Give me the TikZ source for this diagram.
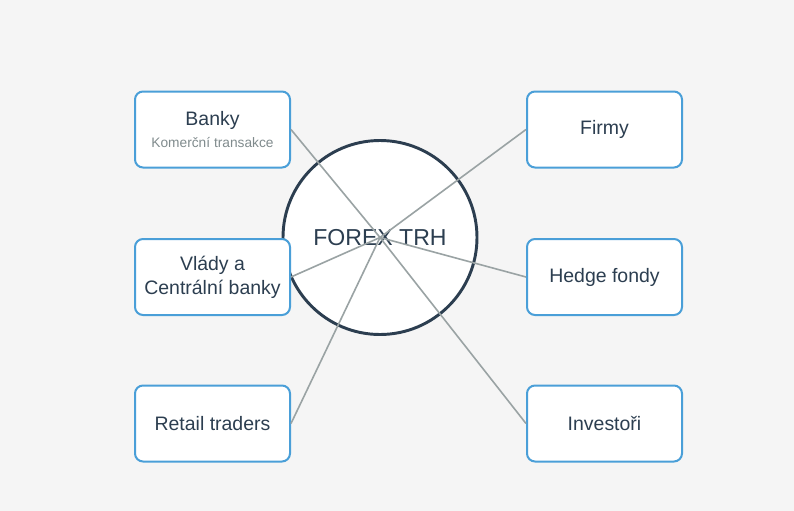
\documentclass[tikz,border=0pt]{standalone}
\usepackage{fontspec}
\setmainfont{Liberation Sans}
\usetikzlibrary{positioning}

\definecolor{bgcol}{HTML}{F5F5F5}
\definecolor{boxcol}{HTML}{4A9FD8}
\definecolor{darkcol}{HTML}{2C3E50}
\definecolor{linkcol}{HTML}{9AA3A4}
\definecolor{subcol}{HTML}{808B8D}

\begin{document}
\begin{tikzpicture}[x=0.75pt,y=-0.75pt,
    font=\fontsize{14.6pt}{18pt}\selectfont,
    market/.style={circle,draw=darkcol,line width=2.2pt,fill=white,
      minimum size=145.5pt,text=darkcol,font=\fontsize{17.3pt}{20pt}\selectfont},
    actor/.style={draw=boxcol,line width=1.5pt,fill=white,rounded corners=6pt,
      minimum width=116.25pt,minimum height=57pt,align=center,text=darkcol},
    link/.style={draw=linkcol,line width=1.2pt}]
\fill[bgcol] (0,0) rectangle (794,511);
\useasboundingbox (0,0) rectangle (794,511);
\node[market] (forex) at (380,237.5) {FOREX TRH};
\node[actor] (banky) at (212.5,129.5)
     {Banky\\[-1pt]{\fontsize{10.3pt}{12pt}\selectfont\color{subcol}Komerční transakce}};
\node[actor] (vlady) at (212.5,277) {Vlády a\\Centrální banky};
\node[actor] (retail) at (212.5,423.5) {Retail traders};
\node[actor] (firmy) at (604.5,129.5) {Firmy};
\node[actor] (hedge) at (604.5,277) {Hedge fondy};
\node[actor] (investori) at (604.5,423.5) {Investoři};
% spojnice k trhu
\foreach \a in {banky,vlady,retail}
  \draw[link] (\a.east) -- (forex.center);
\foreach \a in {firmy,hedge,investori}
  \draw[link] (\a.west) -- (forex.center);
\end{tikzpicture}
\end{document}
